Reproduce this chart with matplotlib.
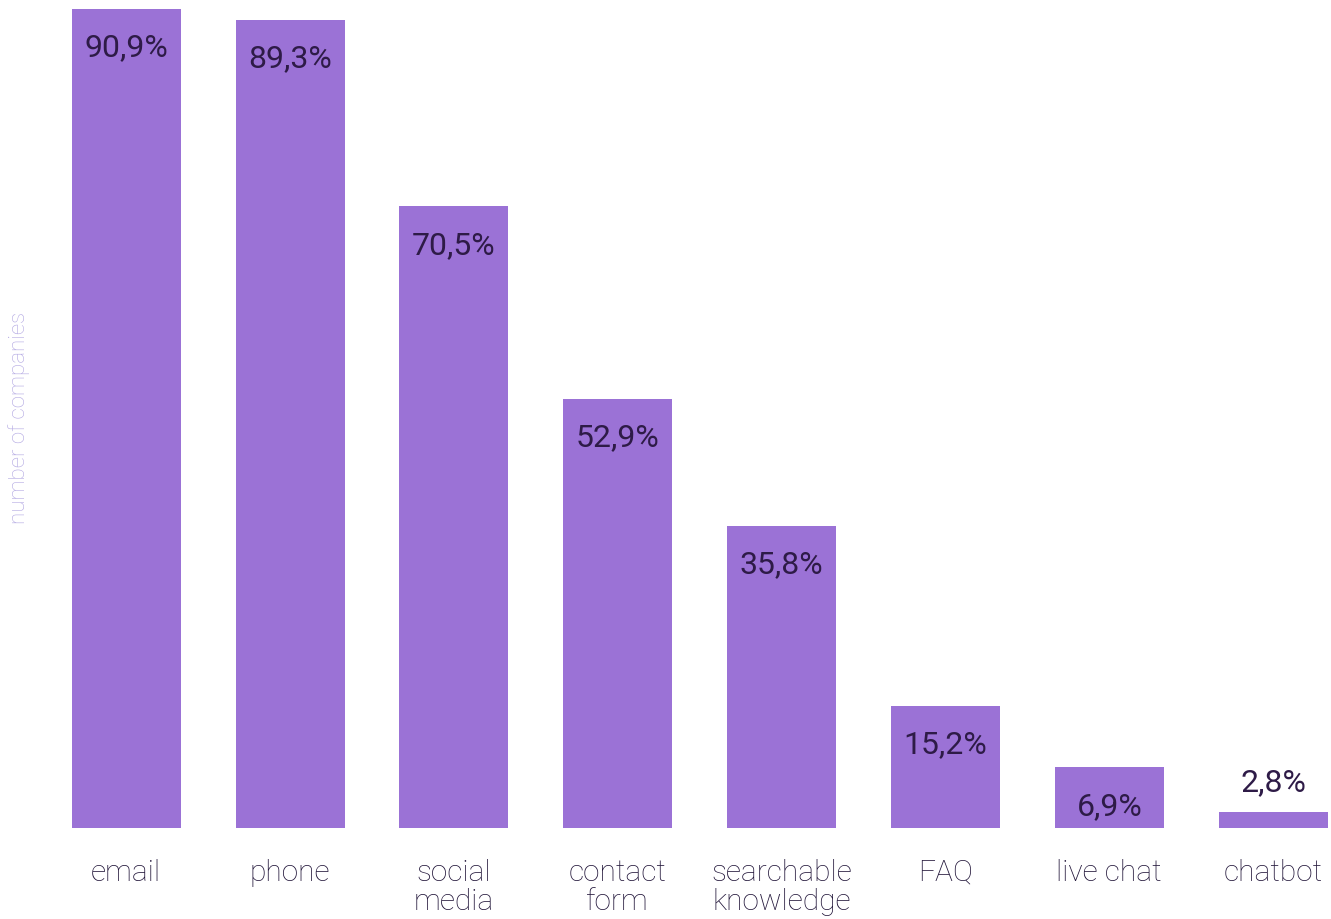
import matplotlib
matplotlib.use("Agg")
import matplotlib.pyplot as plt

# Data
categories = ["email", "phone", "social\nmedia", "contact\nform", "searchable\nknowledge",
              "FAQ", "live chat", "chatbot"]
bar_heights = [100.0, 98.7, 75.9, 52.4, 36.9, 14.9, 7.4, 2.0]   # number of companies (relative scale)
value_labels = ["90,9%", "89,3%", "70,5%", "52,9%", "35,8%", "15,2%", "6,9%", "2,8%"]

BAR_COLOR = "#9b72d6"
LABEL_COLOR = "#2e1b47"
TICK_COLOR = "#22163a"
YLABEL_COLOR = "#b2a7e2"

fig = plt.figure(figsize=(13.31, 9.19), dpi=100)
ax = fig.add_axes([0.0, 91 / 919, 1.0, 819 / 919])

x = list(range(len(categories)))
bars = ax.bar(x, bar_heights, width=0.665, color=BAR_COLOR)

ax.set_xlim(-0.770, 7.353)
ax.set_ylim(0, 100)

for rect, lab in zip(bars, value_labels):
    h = rect.get_height()
    cx = rect.get_x() + rect.get_width() / 2
    if h > 5:
        ax.annotate(lab, (cx, h), xytext=(0, -28), textcoords="offset points",
                    ha="center", va="center", fontsize=23, family="Roboto",
                    color=LABEL_COLOR)
    else:
        ax.annotate(lab, (cx, h), xytext=(0, 21), textcoords="offset points",
                    ha="center", va="center", fontsize=23, family="Roboto",
                    color=LABEL_COLOR)

ax.set_xticks(x)
ax.set_xticklabels(categories, fontsize=21.5, family="Roboto", fontweight="light",
                   color=TICK_COLOR, linespacing=1.08, va="top")
ax.tick_params(axis="x", length=0, pad=22)
ax.set_yticks([])
for s in ax.spines.values():
    s.set_visible(False)

fig.text(19 / 1331, 1 - 418 / 919, "number of companies", rotation=90,
         ha="center", va="center", fontsize=16, family="Roboto",
         fontweight="light", color=YLABEL_COLOR)

fig.savefig("out.png", dpi=100)
